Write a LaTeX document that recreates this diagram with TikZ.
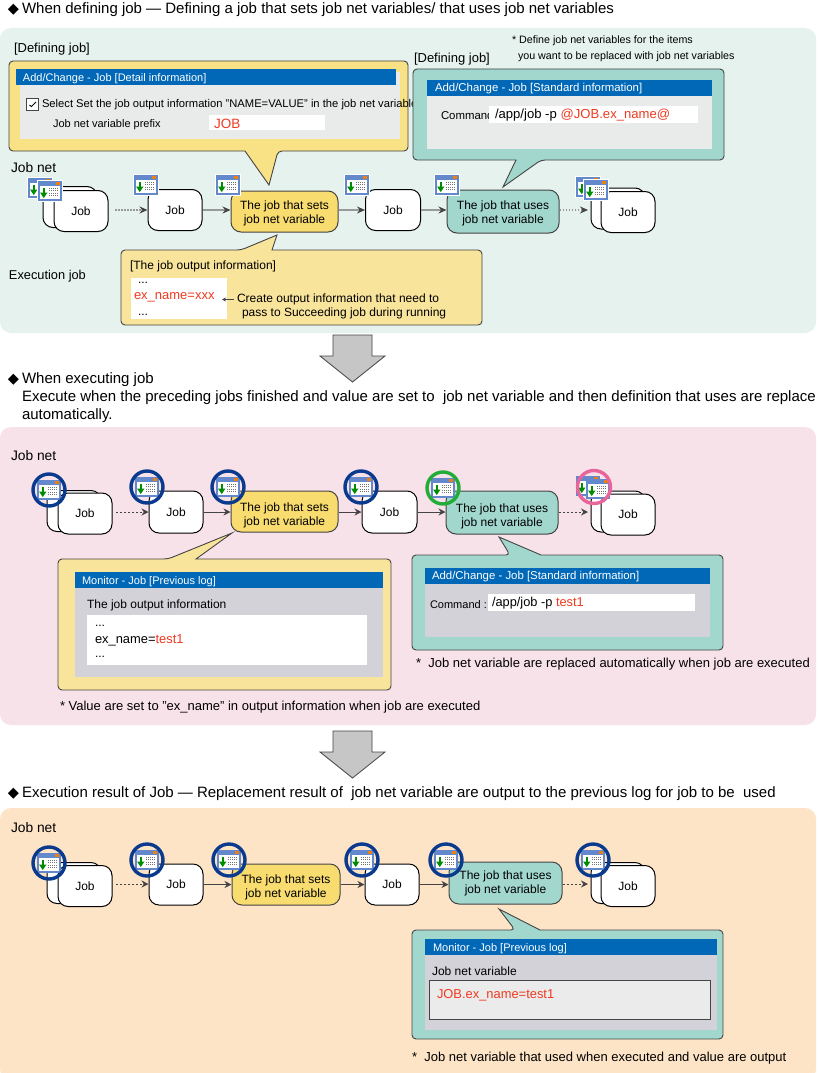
\documentclass[tikz,border=0pt]{standalone}
\usepackage{fontspec}
\setmainfont{Liberation Sans}
\newfontfamily\symfnt{DejaVu Sans}
\usetikzlibrary{arrows.meta}
\definecolor{pgreen}{HTML}{E5F2EE}
\definecolor{ppink}{HTML}{F8E2EA}
\definecolor{porange}{HTML}{FDE4C6}
\definecolor{yfill}{HTML}{F8DC6F}
\definecolor{yfilll}{HTML}{F9E49C}
\definecolor{tfill}{HTML}{A2D7CE}
\definecolor{wblue}{HTML}{0068B7}
\definecolor{wgray}{HTML}{E9EAEA}
\definecolor{wgrayd}{HTML}{D2D2D8}
\definecolor{redt}{HTML}{EE3A20}
\definecolor{edge}{HTML}{444444}
\definecolor{ringb}{HTML}{0A3A8E}
\definecolor{ringg}{HTML}{22AC38}
\definecolor{ringp}{HTML}{E8659C}
\definecolor{iconb}{HTML}{6488CC}
\newcommand{\fs}[1]{\fontsize{#1}{#1}\selectfont}
\newcommand{\dia}{\makebox[14pt][l]{\symfnt\fs{14.5}◆}}
\tikzset{
  x=1pt,y=-1pt,
  t/.style={anchor=west,inner sep=0pt,outer sep=0pt,font=\fs{12},text=black,yshift=-1.5pt},
  tb/.style={t,font=\fs{13}},
  th/.style={t,font=\fs{15}},
  ts/.style={t,font=\fs{11}},
  tn/.style={t,font=\fs{10.7}},
  tm/.style={t,font=\fs{11.4}},
  tj/.style={inner sep=0pt,font=\fontsize{12}{14}\selectfont,align=center},
  panel/.style={rounded corners=11pt,draw=none},
  callout/.style={draw=edge,line width=0.9pt,line join=miter},
  jobbox/.style={draw=black,line width=1pt,fill=white,rounded corners=10pt,tj},
  setbox/.style={jobbox,fill=yfill,draw=edge},
  usebox/.style={jobbox,fill=tfill,draw=edge},
  conn/.style={draw=edge,line width=0.9pt,-{Stealth[length=7pt,width=7pt]}},
  connd/.style={conn,dash pattern=on 2pt off 2pt},
  connf/.style={draw=gray!80,line width=1.4pt,-{Stealth[length=8pt,width=7pt,color=edge]}},
  connfd/.style={connf,dash pattern=on 1.5pt off 1.5pt},
  bigarrow/.style={draw=edge,fill=gray!45,line width=0.8pt},
  ring/.style={line width=3.4pt},
  pics/iconcore/.style={code={
    \fill[white,draw=iconb,line width=1.2pt] (-11,-9) rectangle (11,9);
    \fill[iconb] (-11,-9) rectangle (11,-5.5);
    \fill[orange!70!brown] (6,-9) rectangle (10,-6);
    \fill[green!55!black] (-7.5,-3.5) rectangle (-5,2);
    \fill[green!55!black] (-10,1.5) -- (-2.5,1.5) -- (-6.25,7) -- cycle;
    \foreach \yy in {-3,-0.5,2,4.5}{\draw[black!55,line width=0.8pt,dash pattern=on 1pt off 1pt] (-1,\yy) -- (8,\yy);}
  }},
  pics/jobicon/.style={code={
    \fill[white] (-13,-11) rectangle (13,11);
    \pic {iconcore};
  }}
}
% name, centre x, centre y, width, height, style, text
\newcommand{\jobn}[7]{\node[#6,minimum width=#4pt,minimum height=#5pt] (#1) at (#2,#3) {#7};}
\newcommand{\txt}[5][t]{\node[#1] (#2) at (#3,#4) {#5};}
\newcommand{\bigarr}[1]{\draw[bigarrow] (333,#1) -- (372,#1) -- (372,#1+21) -- (385,#1+21) -- (352.5,#1+47) -- (320,#1+21) -- (333,#1+21) -- cycle;}
\newcommand{\rring}[4]{\draw[ring,draw=#1] (#2,#3) circle (#4);}
\begin{document}
\begin{tikzpicture}
\useasboundingbox (0,0) rectangle (820,1073);
\fill[white] (0,0) rectangle (820,1073);
% panels
\fill[panel,pgreen] (0,28) rectangle (816,333);
\fill[panel,ppink] (0,427) rectangle (816,725);
\fill[panel,porange] (0,808) rectangle (816,1080);
% ---------- headings
\txt[th]{h1}{8}{8}{\dia When defining job ― Defining a job that sets job net variables/ that uses job net variables}
\txt[th]{h2}{8}{378}{\dia When executing job}
\txt[th]{h2b}{22}{396}{Execute when the preceding jobs finished and value are set to \ job net variable and then definition that uses are replace}
\txt[th]{h2c}{22}{414}{automatically.}
\txt[th]{h3}{8}{792}{\dia Execution result of Job ― Replacement result of \ job net variable are output to the previous log for job to be \ used}
% ---------- panel 1 top callouts
\txt[tb]{d1}{14}{48}{[Defining job]}
\draw[callout,fill=yfill!85!white,rounded corners=4pt] (9,61) -- (408,61) -- (408,151) -- (278,151) [sharp corners] -- (269,185) -- (245,151) [rounded corners=4pt] -- (9,151) -- cycle;
\fill[wgray] (20,72) rectangle (400,139);
\fill[wblue] (16,69) rectangle (396,85);
\txt[ts,text=white]{w1}{23}{77}{Add/Change - Job [Detail information]}
\node[draw=edge,fill=white,line width=0.9pt,minimum size=12pt,inner sep=0pt] (cb) at (32.5,104) {};
\draw[black,line width=0.9pt] ([shift={(-3,1)}]cb.center) -- ([shift={(-1,2.5)}]cb.center) -- ([shift={(3.5,-2)}]cb.center);
\txt[t,font=\fs{11.2}]{w1a}{42}{103}{Select Set the job output information "NAME=VALUE" in the job net variable}
\txt[ts]{w1b}{53}{123}{Job net variable prefix}
\node[fill=white,minimum width=116pt,minimum height=15pt,inner sep=0pt] (w1f) at (267,122.5) {};
\txt[t,text=redt,font=\fs{13.5}]{w1c}{214}{122}{JOB}
\txt[tb]{d2}{414}{57.5}{[Defining job]}
\txt[tn]{n1}{512}{39}{* Define job net variables for the items}
\txt[tn]{n2}{518}{55}{you want to be replaced with job net variables}
\draw[callout,fill=tfill,rounded corners=4pt] (413,69) -- (724,69) -- (724,160) -- (541,160) [sharp corners] -- (503,187) -- (516,160) [rounded corners=4pt] -- (413,160) -- cycle;
\fill[wgray] (427,80) rectangle (712,149);
\fill[wblue] (427,80) rectangle (712,96);
\txt[tm,text=white]{w2}{435}{87}{Add/Change - Job [Standard information]}
\txt[tm]{w2a}{441}{114}{Command}
\node[fill=white,minimum width=209pt,minimum height=17pt,inner sep=0pt] (w2f) at (593.5,114.5) {};
\txt[t,font=\fs{13.1}]{w2b}{495}{113.5}{/app/job -p \textcolor{redt}{@JOB.ex\_name@}}
\txt[t,font=\fs{13.8}]{jn1}{11}{166}{Job net}
% ---------- job net 1
\jobn{a0}{70}{207}{54}{41}{jobbox}{}
\jobn{a1}{81}{211}{54}{41}{jobbox}{Job}
\jobn{a2}{175}{210}{54}{41}{jobbox}{Job}
\jobn{a3}{284.5}{211.5}{107}{41}{setbox}{\rule{0pt}{0pt}\\[-2pt]The job that sets\\job net variable}
\jobn{a4}{393}{210}{55}{41}{jobbox}{Job}
\jobn{a5}{503}{211.5}{112}{43}{usebox}{\rule{0pt}{0pt}\\[-2pt]The job that uses\\job net variable}
\jobn{a6}{618}{208.5}{54}{41}{jobbox}{}
\jobn{a7}{628}{212}{54}{41}{jobbox}{Job}
\pic at (40,188) {jobicon};
\pic at (50,191) {jobicon};
\pic at (146,185) {jobicon};
\pic at (228,185) {jobicon};
\pic at (357,185) {jobicon};
\pic at (447,185) {jobicon};
\pic at (588,187) {jobicon};
\pic at (596,190) {jobicon};
\coordinate (a1s) at (115,210);
\coordinate (a6s) at (588,210);
\draw[connfd] (a1s) -- (a1s -| a2.west);
\draw[connf] (a2.east) -- (a2.east -| a3.west);
\draw[connf] (a3.east |- a4.west) -- (a4.west);
\draw[connf] (a4.east) -- (a4.east -| a5.west);
\draw[connfd] (a5.east |- a6s) -- (a6s);
\txt[t,font=\fs{12.8}]{ex1}{9}{275}{Execution job}
\draw[callout,fill=yfilll,rounded corners=4pt] (121,250) -- (241,250) [sharp corners] -- (277,235) -- (272,250) [rounded corners=4pt] -- (482,250) -- (482,325) -- (121,325) -- cycle;
\txt[t]{o1}{130}{265}{[The job output information]}
\node[fill=white,minimum width=96pt,minimum height=41pt,inner sep=0pt] (o1f) at (179,298.5) {};
\txt[t]{o1a}{138}{281}{...}
\txt[t,text=redt,font=\fs{13}]{o1b}{134}{296}{ex\_name=xxx}
\txt[t]{o1c}{138}{313}{...}
\txt[t]{o1d}{237}{298}{Create output information that need to}
\txt[t]{o1e}{242}{312}{pass to Succeeding job during running}
\draw[draw=edge,line width=0.8pt,-{Stealth[length=4pt,width=4pt]}] ([xshift=-3pt]o1d.west) -- ++(-12,0);
\bigarr{335}
% ---------- panel 2
\txt[t,font=\fs{13.8}]{jn2}{11}{454}{Job net}
\jobn{b0}{74}{511}{54}{41}{jobbox}{}
\jobn{b1}{85}{513.5}{54}{41}{jobbox}{Job}
\jobn{b2}{176}{512}{54}{42}{jobbox}{Job}
\jobn{b3}{284.5}{511.5}{107}{41}{setbox}{\rule{0pt}{0pt}\\[2pt]The job that sets\\job net variable}
\jobn{b4}{389.5}{512}{55}{42}{jobbox}{Job}
\jobn{b5}{502}{512.5}{112}{43}{usebox}{\rule{0pt}{0pt}\\[2pt]The job that uses\\job net variable}
\jobn{b6}{618}{511.5}{54}{41}{jobbox}{}
\jobn{b7}{628}{514.5}{54}{41}{jobbox}{Job}
\pic at (49,490) {iconcore};
\pic at (147,487) {iconcore};
\pic at (228,487) {iconcore};
\pic at (361,487) {iconcore};
\pic at (443,488) {iconcore};
\pic at (588,486) {iconcore};
\pic at (598,489) {iconcore};
\rring{ringb}{49}{490}{16}
\rring{ringb}{147}{487}{16}
\rring{ringb}{228}{487}{16}
\rring{ringb}{361}{487}{16}
\rring{ringg}{443}{488}{16}
\rring{ringp}{594}{487}{16.5}
\coordinate (b1s) at (116,512);
\coordinate (b6s) at (588,512);
\draw[connd] (b1s) -- (b1s -| b2.west);
\draw[conn] (b2.east) -- (b2.east -| b3.west);
\draw[conn] (b3.east |- b4.west) -- (b4.west);
\draw[conn] (b4.east) -- (b4.east -| b5.west);
\draw[connd] (b5.east |- b6s) -- (b6s);
\draw[callout,fill=yfilll,rounded corners=4pt] (58,559) -- (168,559) [sharp corners] -- (232,533) -- (196,559) [rounded corners=4pt] -- (391,559) -- (391,690) -- (58,690) -- cycle;
\fill[wgrayd] (75,572) rectangle (383,677);
\fill[wblue] (75,572) rectangle (383,588);
\txt[ts,text=white]{w3}{82}{580}{Monitor - Job [Previous log]}
\txt[t]{w3a}{87}{604}{The job output information}
\node[fill=white,minimum width=280pt,minimum height=50pt,inner sep=0pt] (w3f) at (227,640) {};
\txt[t]{w3b}{95}{624}{...}
\txt[t,font=\fs{12.9}]{w3c}{95}{639}{ex\_name=\textcolor{redt}{test1}}
\txt[t]{w3d}{95}{655}{...}
\txt[t,font=\fs{13}]{f1}{60}{706}{* Value are set to "ex\_name" in output information when job are executed}
\draw[callout,fill=tfill,rounded corners=4pt] (412,555) -- (510,555) [sharp corners] -- (499,537) -- (541,555) [rounded corners=4pt] -- (723,555) -- (723,650) -- (412,650) -- cycle;
\fill[wgrayd] (425,568) rectangle (710,637);
\fill[wblue] (425,568) rectangle (710,584);
\txt[tm,text=white]{w4}{432}{575}{Add/Change - Job [Standard information]}
\txt[ts]{w4a}{430}{603}{Command :}
\node[fill=white,minimum width=207pt,minimum height=17pt,inner sep=0pt] (w4f) at (591.5,602.5) {};
\txt[t,font=\fs{12.8}]{w4b}{492}{601.5}{/app/job -p \textcolor{redt}{test1}}
\txt[t,font=\fs{13}]{f2}{416}{663}{*\ \ Job net variable are replaced automatically when job are executed}
\bigarr{731}
% ---------- panel 3
\txt[t,font=\fs{13.8}]{jn3}{11}{826}{Job net}
\jobn{c0}{74}{883}{54}{41}{jobbox}{}
\jobn{c1}{85}{886}{54}{41}{jobbox}{Job}
\jobn{c2}{176}{884.5}{54}{41}{jobbox}{Job}
\jobn{c3}{286}{884.5}{108}{41}{setbox}{\rule{0pt}{0pt}\\[0pt]The job that sets\\job net variable}
\jobn{c4}{392}{884.5}{54}{41}{jobbox}{Job}
\jobn{c5}{505.5}{883}{113}{42}{usebox}{The job that uses\\job net variable}
\jobn{c6}{618}{883}{54}{41}{jobbox}{}
\jobn{c7}{628}{886}{54}{41}{jobbox}{Job}
\pic at (49,863) {iconcore};
\pic at (147,860) {iconcore};
\pic at (229,860) {iconcore};
\pic at (362,860) {iconcore};
\pic at (446,860) {iconcore};
\pic at (593,860) {iconcore};
\rring{ringb}{49}{863}{16}
\rring{ringb}{147}{860}{16}
\rring{ringb}{229}{860}{16}
\rring{ringb}{362}{860}{16}
\rring{ringb}{446}{860}{16}
\rring{ringb}{593}{860}{16}
\coordinate (c1s) at (116,884);
\coordinate (c6s) at (588,884);
\draw[connd] (c1s) -- (c1s -| c2.west);
\draw[conn] (c2.east) -- (c2.east -| c3.west);
\draw[conn] (c3.east |- c4.west) -- (c4.west);
\draw[conn] (c4.east) -- (c4.east -| c5.west);
\draw[connd] (c5.east |- c6s) -- (c6s);
\draw[callout,fill=tfill,rounded corners=4pt] (412,930) -- (515,930) [sharp corners] -- (499,909) -- (540,930) [rounded corners=4pt] -- (723,930) -- (723,1039) -- (412,1039) -- cycle;
\fill[wgrayd] (425,939) rectangle (717,1030);
\fill[wblue] (425,939) rectangle (717,955);
\txt[ts,text=white]{w5}{433}{947}{Monitor - Job [Previous log]}
\txt[t]{w5a}{432}{970}{Job net variable}
\node[draw=edge,fill=white!92!black,line width=1pt,minimum width=281pt,minimum height=39pt,inner sep=0pt] (w5f) at (569.5,999.5) {};
\txt[t,text=redt,font=\fs{12.9}]{w5b}{437}{994}{JOB.ex\_name=test1}
\txt[t,font=\fs{13}]{f3}{412}{1057}{*\ \ Job net variable that used when executed and value are output}
\end{tikzpicture}
\end{document}
